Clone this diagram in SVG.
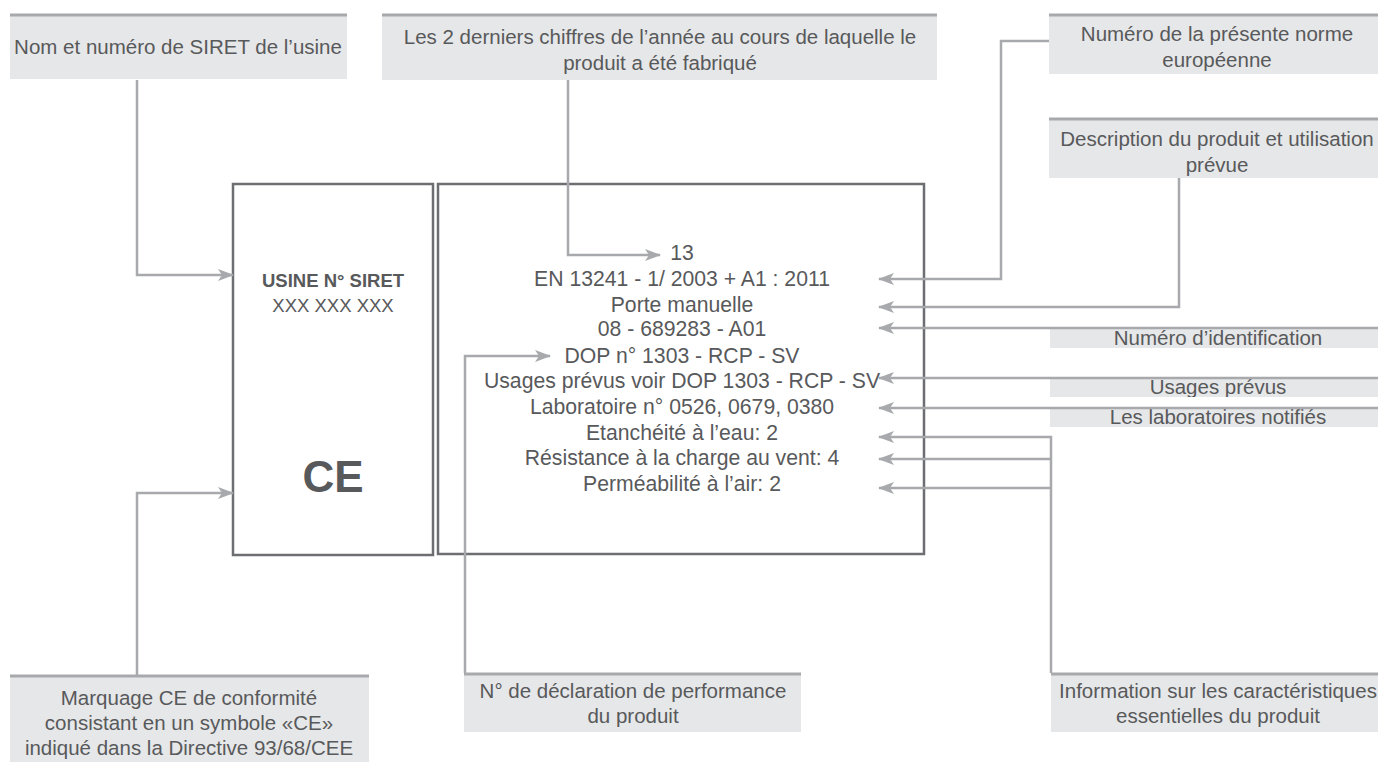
<svg xmlns="http://www.w3.org/2000/svg" width="1378" height="762" viewBox="0 0 1378 762">
<style>
  text { font-family: "Liberation Sans", Arial, sans-serif; fill: #58595b; text-anchor: middle; }
  .lbl { font-size: 20.5px; }
  .main { font-size: 21.2px; }
  .box { fill: #e6e7e8; }
  .bar { stroke: #a7a9ac; stroke-width: 3; fill: none; }
  .frame { fill: #fff; stroke: #6d6e71; stroke-width: 2.5; }
  .conn { fill: none; stroke: #a7a9ac; stroke-width: 2.5; }
</style>
<defs>
  <marker id="ah" viewBox="0 0 16 12" refX="15" refY="6" markerWidth="16" markerHeight="12" markerUnits="userSpaceOnUse" orient="auto">
    <path d="M0,0 L16,6 L0,12 L4,6 Z" fill="#a7a9ac"/>
  </marker>
  <clipPath id="clipU"><rect x="1050" y="379" width="328" height="18"/></clipPath>
</defs>

<g id="usine-box">
  <rect class="frame" x="233" y="184" width="200" height="371"/>
  <text x="333" y="287" style="font-size:18.5px;font-weight:bold">USINE N° SIRET</text>
  <text x="333" y="312" style="font-size:18.5px">XXX XXX XXX</text>
  <text x="333" y="492" style="font-size:44px;font-weight:bold">CE</text>
</g>

<g id="info-box">
  <rect class="frame" x="438" y="184" width="486" height="370"/>
  <text class="main" x="682" y="260">13</text>
  <text class="main" x="682" y="286">EN 13241 - 1/ 2003 + A1 : 2011</text>
  <text class="main" x="682" y="312">Porte manuelle</text>
  <text class="main" x="682" y="336">08 - 689283 - A01</text>
  <text class="main" x="682" y="363">DOP n° 1303 - RCP - SV</text>
  <text class="main" x="682" y="388">Usages prévus voir DOP 1303 - RCP - SV</text>
  <text class="main" x="682" y="414">Laboratoire n° 0526, 0679, 0380</text>
  <text class="main" x="682" y="440">Etanchéité à l’eau: 2</text>
  <text class="main" x="682" y="465">Résistance à la charge au vent: 4</text>
  <text class="main" x="682" y="491">Perméabilité à l’air: 2</text>
</g>

<g id="label-siret">
  <rect class="box" x="10" y="14" width="337" height="65"/>
  <line class="bar" x1="10" y1="15" x2="347" y2="15"/>
  <text class="lbl" x="178" y="54">Nom et numéro de SIRET de l’usine</text>
</g>

<g id="label-annee">
  <rect class="box" x="382" y="14" width="555" height="66"/>
  <line class="bar" x1="382" y1="15" x2="937" y2="15"/>
  <text class="lbl" x="660" y="44">Les 2 derniers chiffres de l’année au cours de laquelle le</text>
  <text class="lbl" x="660" y="70">produit a été fabriqué</text>
</g>

<g id="label-norme">
  <rect class="box" x="1049" y="14" width="329" height="60"/>
  <line class="bar" x1="1049" y1="15" x2="1378" y2="15"/>
  <text class="lbl" x="1217" y="41">Numéro de la présente norme</text>
  <text class="lbl" x="1217" y="67">européenne</text>
</g>

<g id="label-description">
  <rect class="box" x="1049" y="118" width="329" height="60"/>
  <line class="bar" x1="1049" y1="119" x2="1378" y2="119"/>
  <text class="lbl" x="1217" y="146">Description du produit et utilisation</text>
  <text class="lbl" x="1217" y="172">prévue</text>
</g>

<g id="label-identification">
  <rect class="box" x="1050" y="329" width="328" height="19"/>
  <text class="lbl" x="1218" y="345">Numéro d’identification</text>
</g>

<g id="label-usages">
  <rect class="box" x="1050" y="379" width="328" height="18"/>
  <text class="lbl" x="1218" y="394" clip-path="url(#clipU)">Usages prévus</text>
</g>

<g id="label-labo">
  <rect class="box" x="1050" y="409" width="328" height="18"/>
  <text class="lbl" x="1218" y="424">Les laboratoires notifiés</text>
</g>

<g id="label-ce">
  <rect class="box" x="10" y="675" width="359" height="87"/>
  <line class="bar" x1="10" y1="676" x2="369" y2="676"/>
  <text class="lbl" x="189" y="705">Marquage CE de conformité</text>
  <text class="lbl" x="189" y="730">consistant en un symbole «CE»</text>
  <text class="lbl" x="189" y="755">indiqué dans la Directive 93/68/CEE</text>
</g>

<g id="label-dop">
  <rect class="box" x="464" y="673" width="337" height="59"/>
  <line class="bar" x1="464" y1="674" x2="801" y2="674"/>
  <text class="lbl" x="633" y="698">N° de déclaration de performance</text>
  <text class="lbl" x="633" y="723">du produit</text>
</g>

<g id="label-caracteristiques">
  <rect class="box" x="1051" y="673" width="327" height="59"/>
  <line class="bar" x1="1051" y1="674" x2="1378" y2="674"/>
  <text class="lbl" x="1218" y="698">Information sur les caractéristiques</text>
  <text class="lbl" x="1218" y="723">essentielles du produit</text>
</g>

<g id="connectors">
  <path class="conn" d="M137,80 V275 H233" marker-end="url(#ah)"/>
  <path class="conn" d="M137,675 V493 H233" marker-end="url(#ah)"/>
  <path class="conn" d="M568,80 V255 H660" marker-end="url(#ah)"/>
  <path class="conn" d="M1049,41 H1001 V279 H879" marker-end="url(#ah)"/>
  <path class="conn" d="M1179,178 V307 H879" marker-end="url(#ah)"/>
  <path class="conn" d="M1378,328 H879" marker-end="url(#ah)"/>
  <path class="conn" d="M1378,378 H879" marker-end="url(#ah)"/>
  <path class="conn" d="M1378,408 H879" marker-end="url(#ah)"/>
  <path class="conn" d="M1051,673 V437 H879" marker-end="url(#ah)"/>
  <path class="conn" d="M1051,459 H879" marker-end="url(#ah)"/>
  <path class="conn" d="M1051,488 H879" marker-end="url(#ah)"/>
  <path class="conn" d="M465,673 V356 H550" marker-end="url(#ah)"/>
</g>
</svg>
